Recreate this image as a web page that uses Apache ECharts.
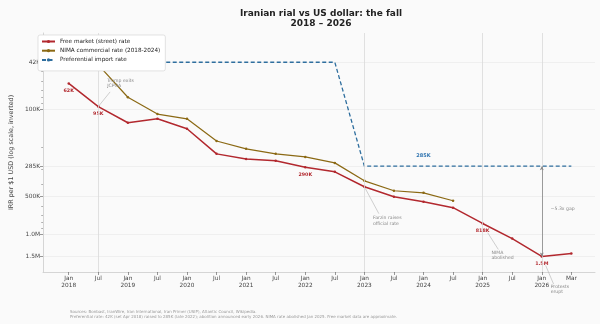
<!DOCTYPE html>
<html>
<head>
<meta charset="utf-8">
<script src="https://cdn.jsdelivr.net/npm/echarts@6/dist/echarts.min.js"></script>
<style>
  html, body { margin: 0; padding: 0; background: #fafafa; }
  #chart { width: 600px; height: 324px; }
</style>
</head>
<body>
<div id="chart"></div>
<script>
// Half-year periods on the x axis
const periods = ['Jan\n2018', 'Jul', 'Jan\n2019', 'Jul', 'Jan\n2020', 'Jul', 'Jan\n2021', 'Jul',
  'Jan\n2022', 'Jul', 'Jan\n2023', 'Jul', 'Jan\n2024', 'Jul', 'Jan\n2025', 'Jul', 'Jan\n2026', 'Mar'];

// IRR per 1 USD
const freeMarket = [62000, 95000, 128000, 119000, 143000, 227000, 249000, 258000, 290000, 316000,
  416000, 500000, 548000, 612000, 818000, 1080000, 1500000, 1420000];
const nimaRate = [null, 44000, 80000, 109000, 119000, 179000, 207000, 227000, 240000, 268000,
  373000, 448000, 465000, 538000, null, null, null, null];
const preferentialRate = [42000, 42000, 42000, 42000, 42000, 42000, 42000, 42000, 42000, 42000,
  285000, 285000, 285000, 285000, 285000, 285000, 285000, 285000];

// Axis ticks (IRR)
const yTicks = [42000, 100000, 285000, 500000, 1000000, 1500000];
const yMinorTicks = [30000, 40000, 50000, 60000, 70000, 80000, 90000,
  200000, 300000, 400000, 600000, 700000, 800000, 900000];
const yRange = [24500, 2000000];

// Free-market points carrying a value label
const labeledFree = [0, 1, 8, 14, 16];
// Period index where the preferential rate is labelled
const prefLabelAt = 12;
// Event markers (period index)
const eventPeriods = [1, 10, 14, 16];
// Period where the free-market / preferential gap is shown
const gapAt = 16;

const gapText = '~' + (freeMarket[gapAt] / preferentialRate[gapAt]).toFixed(1) + 'x gap';

// Notes: text anchor and leader line, in (period index, IRR)
const notes = [
  { text: 'Trump exits\nJCPOA', at: [1.3, 61700], from: [1, 95000], to: [1.4, 72500] },
  { text: 'Farzin raises\nofficial rate', at: [10.29, 776000], from: [10, 416000], to: [10.49, 683000] },
  { text: 'NIMA\nabolished', at: [14.3, 1476000], from: [14.17, 970000], to: [14.53, 1320000] },
  { text: 'Protests\nerupt', at: [16.3, 2750000], from: [16.13, 1770000], to: [16.4, 2500000] },
  { text: gapText, at: [16.3, 623000] }
];

const RED = '#b2282e', OLIVE = '#8b6914', BLUE = '#2e6e9e';
const lg = v => Math.log10(v);
function fmt(v) {
  if (v >= 1e6) return (v / 1e6).toFixed(1) + 'M';
  return Math.round(v / 1000) + 'K';
}
const idx = periods.map((_, i) => i);

const chart = echarts.init(document.getElementById('chart'), null, { renderer: 'canvas' });

chart.setOption({
  animation: false,
  backgroundColor: '#fafafa',
  textStyle: { fontFamily: 'DejaVu Sans' },
  title: {
    text: 'Iranian rial vs US dollar: the fall\n2018 – 2026',
    left: 316, top: 3, textAlign: 'center',
    textStyle: { fontSize: 9, fontWeight: 'bold', color: '#222', lineHeight: 10.5, fontFamily: 'DejaVu Sans' }
  },
  legend: {
    left: 38, top: 35, orient: 'vertical', zlevel: 1, z: 20,
    itemWidth: 13, itemHeight: 4, itemGap: 3.2,
    padding: [3.5, 5, 8, 3],
    backgroundColor: '#ffffff', borderColor: '#d0d0d0', borderWidth: 0.6, borderRadius: 2,
    textStyle: { fontSize: 5.7, color: '#222' },
    data: ['Free market (street) rate', 'NIMA commercial rate (2018-2024)', 'Preferential import rate']
  },
  grid: { left: 36, right: 5, top: 33, bottom: 52 },
  xAxis: {
    type: 'value', min: -0.87, max: 17.8,
    axisLine: { show: true, onZero: false, lineStyle: { color: '#cccccc', width: 0.8 } },
    axisTick: { show: true, customValues: idx, length: 3, lineStyle: { color: '#555', width: 0.6 } },
    axisLabel: {
      customValues: idx, formatter: v => periods[Math.round(v)],
      fontSize: 5.8, color: '#444', lineHeight: 7, margin: 3
    },
    splitLine: { show: false }
  },
  yAxis: [
    {
      type: 'value', inverse: true, position: 'left', min: lg(yRange[0]), max: lg(yRange[1]),
      name: 'IRR per $1 USD (log scale, inverted)', nameLocation: 'middle', nameGap: 27,
      nameTextStyle: { fontSize: 6.4, color: '#444' },
      axisLine: { show: true, onZero: false, lineStyle: { color: '#cccccc', width: 0.8 } },
      axisTick: { show: true, customValues: yTicks.map(lg), length: 3, lineStyle: { color: '#555', width: 0.6 } },
      axisLabel: { customValues: yTicks.map(lg), formatter: v => fmt(Math.pow(10, v)), fontSize: 5.9, color: '#444', margin: 3 },
      splitLine: { show: true, lineStyle: { color: '#e8e8e8', width: 0.6 } }
    },
    {
      type: 'value', inverse: true, position: 'left', min: lg(yRange[0]), max: lg(yRange[1]),
      axisLine: { show: false, onZero: false },
      axisTick: { show: true, customValues: yMinorTicks.map(lg), length: 1.8, lineStyle: { color: '#666', width: 0.5 } },
      axisLabel: { show: false },
      splitLine: { show: false }
    }
  ],
  series: [
    {
      name: 'Preferential import rate', type: 'line', z: 2,
      data: preferentialRate.map((v, i) => [i, lg(v)]),
      symbol: 'none',
      lineStyle: { color: BLUE, width: 1.3, type: [4, 2.5] },
      itemStyle: { color: BLUE },
      markPoint: {
        symbol: 'circle', symbolSize: 0, silent: true,
        data: [{
          coord: [prefLabelAt, lg(preferentialRate[prefLabelAt])],
          name: fmt(preferentialRate[prefLabelAt])
        }],
        label: { show: true, position: 'top', distance: 8, formatter: p => p.name,
          fontSize: 5, fontWeight: 'bold', color: '#2f74b0' }
      }
    },
    {
      name: 'NIMA commercial rate (2018-2024)', type: 'line', z: 2,
      data: nimaRate.map((v, i) => [i, v]).filter(d => d[1] != null).map(d => [d[0], lg(d[1])]),
      symbol: 'circle', symbolSize: 2.5,
      lineStyle: { color: OLIVE, width: 1.2 },
      itemStyle: { color: OLIVE }
    },
    {
      name: 'Free market (street) rate', type: 'line', z: 3,
      data: freeMarket.map((v, i) => ({ value: [i, lg(v)], label: { show: labeledFree.includes(i) } })),
      symbol: 'circle', symbolSize: 2.5,
      lineStyle: { color: RED, width: 1.5 },
      itemStyle: { color: RED },
      label: { show: false, position: 'bottom', distance: 3.5, fontSize: 4.8, fontWeight: 'bold', color: RED,
        formatter: p => fmt(freeMarket[p.dataIndex]) },
      markLine: {
        silent: true, symbol: ['none', 'none'], label: { show: false },
        lineStyle: { color: '#d9d9d9', width: 0.8, type: 'solid' },
        data: eventPeriods.map(e => ({ xAxis: e })).concat([[
          { coord: [gapAt, lg(preferentialRate[gapAt])], symbol: 'arrow', symbolSize: [3, 4],
            lineStyle: { color: '#888', width: 0.8, type: 'solid' } },
          { coord: [gapAt, lg(freeMarket[gapAt])], symbol: 'arrow', symbolSize: [3, 4] }
        ]])
      }
    },
    {
      name: 'notes', type: 'custom', z: 3, silent: true, clip: false,
      data: notes.map(n => [n.at[0], lg(n.at[1])]),
      renderItem: (params, api) => {
        const n = notes[params.dataIndex];
        const p = api.coord([n.at[0], lg(n.at[1])]);
        const children = [];
        if (n.from) {
          const f = api.coord([n.from[0], lg(n.from[1])]);
          const t = api.coord([n.to[0], lg(n.to[1])]);
          children.push({ type: 'line', shape: { x1: f[0], y1: f[1], x2: t[0], y2: t[1] },
            style: { stroke: '#b0b0b0', lineWidth: 0.6 } });
        }
        children.push({ type: 'text', x: p[0], y: p[1],
          style: { text: n.text, fill: '#888', fontSize: 4.6, fontFamily: 'DejaVu Sans',
            align: 'left', verticalAlign: 'middle', lineHeight: 5.5 } });
        return { type: 'group', children };
      }
    }
  ],
  graphic: [{
    type: 'text', left: 70, top: 309.5, silent: true,
    style: {
      text: 'Sources: Bonbast, IranWire, Iran International, Iran Primer (USIP), Atlantic Council, Wikipedia.\n' +
        'Preferential rate: 42K (set Apr 2018) raised to 285K (late 2022); abolition announced early 2026. NIMA rate abolished Jan 2025. Free market data are approximate.',
      fill: '#999', fontSize: 4, lineHeight: 5.2, fontFamily: 'DejaVu Sans'
    }
  }]
});
</script>
</body>
</html>
